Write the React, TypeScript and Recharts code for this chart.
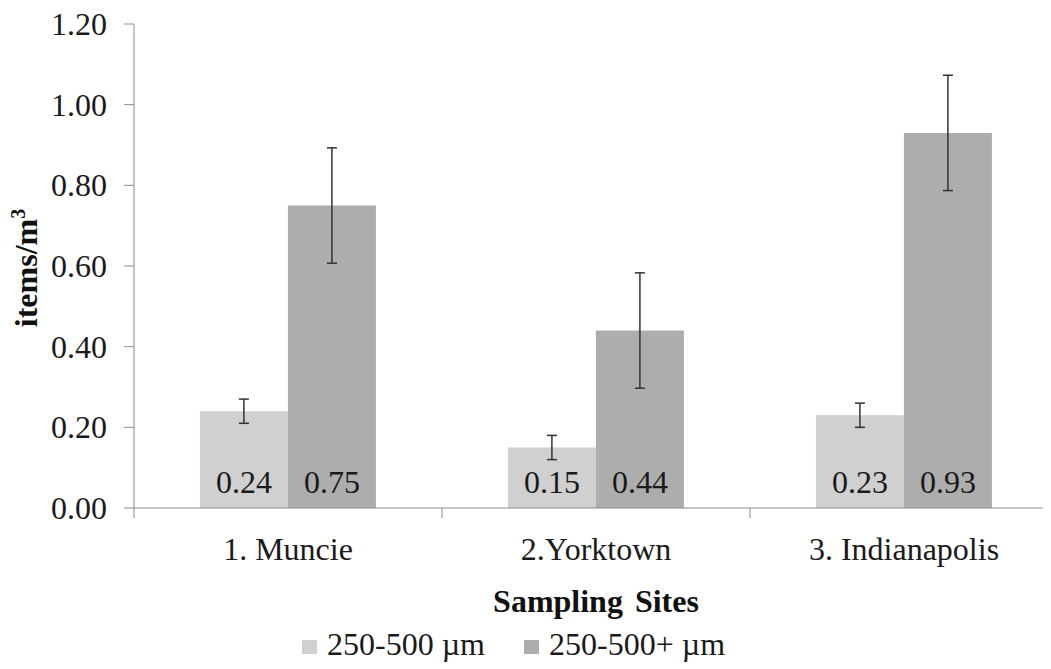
import { BarChart, Bar, XAxis, YAxis, ErrorBar, LabelList } from 'recharts';

// sites and measured densities (items/m3)
const sites = ['1. Muncie', '2.Yorktown', '3. Indianapolis'];
const small = [0.24, 0.15, 0.23];
const smallErr = [0.03, 0.03, 0.03];
const large = [0.75, 0.44, 0.93];
const largeErr = [0.143, 0.143, 0.143];
const yTicks = [0, 0.2, 0.4, 0.6, 0.8, 1.0, 1.2];

const seriesNames = ['250-500 \u00b5m', '250-500+ \u00b5m'];
const colors = ['#d0d0d0', '#adadad'];

const data = sites.map((site, i) => ({
  site,
  small: small[i],
  smallErr: smallErr[i],
  large: large[i],
  largeErr: largeErr[i],
}));

const FONT = 'Liberation Serif';
const INK = '#1a1a1a';
const AXIS = '#8c8c8c';

const YTick = ({ x, y, payload }: any) => (
  <text x={x} y={y} dy={11} textAnchor="end" style={{ fontFamily: FONT }} fontSize={32} fill={INK}>
    {Number(payload.value).toFixed(2)}
  </text>
);

const XTick = ({ x, y, payload, index }: any) => {
  const half = payload.offset || 154;
  return (
    <g>
      <line x1={x - half} y1={y} x2={x - half} y2={y + 10} stroke={AXIS} />
      {index === sites.length - 1 && (
        <line x1={x + half} y1={y} x2={x + half} y2={y + 10} stroke={AXIS} />
      )}
      <text x={x} y={y} dy={52} textAnchor="middle" style={{ fontFamily: FONT }} fontSize={32} fill={INK}>
        {payload.value}
      </text>
    </g>
  );
};

const BarValue = ({ x, y, width, height, value }: any) => (
  <text
    x={x + width / 2}
    y={y + height - 15}
    textAnchor="middle"
    style={{ fontFamily: FONT }}
    fontSize={32}
    fill={INK}
  >
    {Number(value).toFixed(2)}
  </text>
);

const XTitle = ({ viewBox }: any) => (
  <text
    x={viewBox.x + viewBox.width / 2}
    y={viewBox.y + 104}
    textAnchor="middle"
    style={{ fontFamily: FONT }}
    fontSize={32}
    fontWeight="bold"
    wordSpacing={4}
    fill="#111"
  >
    Sampling Sites
  </text>
);

const YTitle = ({ viewBox }: any) => {
  const bx = 37;
  const cy = viewBox.y + viewBox.height / 2 + 2;
  return (
    <text
      x={bx}
      y={cy}
      transform={`rotate(-90, ${bx}, ${cy})`}
      textAnchor="middle"
      style={{ fontFamily: FONT }}
      fontSize={32}
      fontWeight="bold"
      fill="#111"
    >
      items/m<tspan fontSize={20} dy={-12}>3</tspan>
    </text>
  );
};

export default function App() {
  return (
    <div
      style={{
        position: 'relative',
        width: 1051,
        height: 669,
        margin: '-8px 0 0 -8px',
        overflow: 'hidden',
        background: '#fff',
      }}
    >
      <BarChart
        width={1068}
        height={669}
        data={data}
        margin={{ top: 24, right: 10, left: 0, bottom: 131 }}
        barCategoryGap="21.4%"
        barGap={0}
      >
        <XAxis
          dataKey="site"
          height={30}
          tickSize={0}
          tickMargin={0}
          tickLine={false}
          axisLine={{ stroke: AXIS }}
          tick={<XTick />}
          interval={0}
          label={<XTitle />}
        />
        <YAxis
          width={134}
          domain={[0, 1.2]}
          ticks={yTicks}
          interval={0}
          tickSize={10}
          tickMargin={17}
          tickLine={{ stroke: AXIS }}
          axisLine={{ stroke: AXIS }}
          tick={<YTick />}
          label={<YTitle />}
        />
        <Bar dataKey="small" name={seriesNames[0]} fill={colors[0]} isAnimationActive={false}>
          <ErrorBar dataKey="smallErr" width={5} stroke="#333" strokeWidth={1.5} />
          <LabelList dataKey="small" content={<BarValue />} />
        </Bar>
        <Bar dataKey="large" name={seriesNames[1]} fill={colors[1]} isAnimationActive={false}>
          <ErrorBar dataKey="largeErr" width={5} stroke="#333" strokeWidth={1.5} />
          <LabelList dataKey="large" content={<BarValue />} />
        </Bar>
      </BarChart>
      <div
        style={{
          position: 'absolute',
          left: 302,
          top: 628,
          display: 'flex',
          alignItems: 'center',
          fontFamily: FONT,
          fontSize: 32,
          lineHeight: '32px',
          color: INK,
          whiteSpace: 'nowrap',
        }}
      >
        {seriesNames.map((name, i) => (
          <div key={name} style={{ display: 'flex', alignItems: 'center', marginRight: 39 }}>
            <span
              style={{
                width: 15,
                height: 14,
                background: colors[i],
                display: 'inline-block',
                marginRight: 10,
                position: 'relative',
                top: 3,
              }}
            />
            <span>{name}</span>
          </div>
        ))}
      </div>
    </div>
  );
}
